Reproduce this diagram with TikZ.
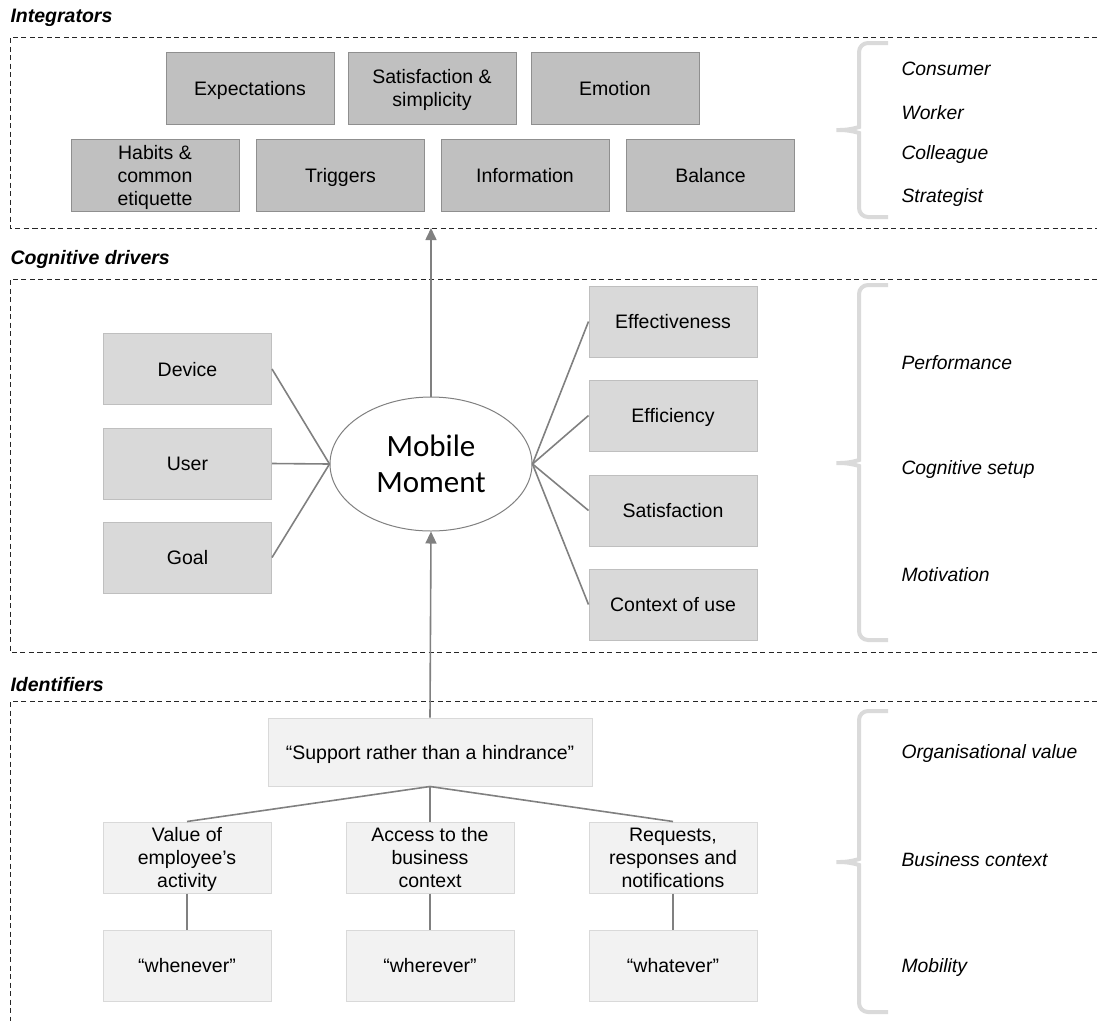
\documentclass[tikz,border=0pt]{standalone}
\usepackage{fontspec}
\setmainfont{Liberation Sans}
\newfontfamily\mmfont{Carlito}
\usetikzlibrary{shapes.geometric,arrows.meta}
\definecolor{darkfill}{HTML}{C0C0C0}
\definecolor{darkedge}{HTML}{8F8F8F}
\definecolor{midfill}{HTML}{D9D9D9}
\definecolor{midedge}{HTML}{BFBFBF}
\definecolor{lightfill}{HTML}{F2F2F2}
\definecolor{lightedge}{HTML}{D9D9D9}
\definecolor{linkgray}{HTML}{808080}
\definecolor{bracegray}{HTML}{DADADA}

% curly brace opening to the left: top, tip and bottom y
\newcommand{\sidebrace}[3]{%
  \draw[brace] (888,#1) -- (859,#1) -- (859,#2-12)
    .. controls (859,#2-3) and (850,#2) .. (831,#2)
    .. controls (850,#2) and (859,#2+3) .. (859,#2+12)
    -- (859,#3) -- (888,#3);}

\begin{document}
\begin{tikzpicture}[x=1pt,y=-1pt,
  every node/.style={font=\fontsize{19.5}{23}\selectfont},
  basebox/.style={rectangle, inner sep=0pt, align=center, text depth=0pt,
    minimum width=168pt, minimum height=71pt, line width=1pt},
  intbox/.style={basebox, fill=darkfill, draw=darkedge, minimum height=72pt},
  drvbox/.style={basebox, fill=midfill, draw=midedge},
  idbox/.style={basebox, fill=lightfill, draw=lightedge},
  frame/.style={dash pattern=on 5pt off 3.5pt, line width=0.9pt, draw=black!85},
  heading/.style={anchor=west, font=\fontsize{19.5}{23}\selectfont\bfseries\itshape},
  role/.style={anchor=west, font=\fontsize{19.3}{23}\selectfont\itshape},
  link/.style={draw=linkgray, line width=1.6pt},
  flow/.style={link, -{Triangle[width=11pt,length=12pt]}},
  brace/.style={draw=bracegray, line width=4pt, rounded corners=9pt},
]
\useasboundingbox (0,0) rectangle (1097,1021);

% section frames
\draw[frame] (1097,37) -- (10,37) -- (10,228) -- (1097,228);
\draw[frame] (1097,279) -- (10,279) -- (10,652) -- (1097,652);
\draw[frame] (1097,701) -- (10,701) -- (10,1021);

\node[heading] (hint) at (7,18) {Integrators};
\node[heading] (hcog) at (7,259) {Cognitive drivers};
\node[heading] (hid)  at (7,685) {Identifiers};

% integrators
\node[intbox] (expect) at (250,88)   {Expectations};
\node[intbox] (satsim) at (432,88)   {Satisfaction \&\\simplicity};
\node[intbox] (emot)   at (615,88)   {Emotion};
\node[intbox] (habits) at (155,175)  {Habits \&\\common\\etiquette};
\node[intbox] (trig)   at (340.5,175){Triggers};
\node[intbox] (info)   at (525,175)  {Information};
\node[intbox] (bal)    at (710.5,175){Balance};
\coordinate (intbot) at (431,228);

% cognitive drivers
\node[ellipse, draw=linkgray, line width=1pt, fill=white, inner sep=0pt,
  minimum width=202pt, minimum height=134pt, align=center,
  font=\mmfont\fontsize{31}{36}\selectfont] (mm) at (431,464) {Mobile\\Moment};
\node[drvbox] (device) at (187.5,369)   {Device};
\node[drvbox] (user)   at (187.5,463.5) {User};
\node[drvbox] (goal)   at (187.5,557.5) {Goal};
\node[drvbox] (effect) at (673,321.5)   {Effectiveness};
\node[drvbox] (effic)  at (673,415.5)   {Efficiency};
\node[drvbox] (satis)  at (673,510.5)   {Satisfaction};
\node[drvbox] (ctx)    at (673,604.5)   {Context of use};

\foreach \n in {device,user,goal} \draw[link] (\n.east) -- (mm.west);
\foreach \n in {effect,effic,satis,ctx} \draw[link] (mm.east) -- (\n.west);

% identifiers
\node[idbox, minimum width=324pt, minimum height=68pt] (support) at (430,752)
  {“Support rather than a hindrance”};
\node[idbox] (value)  at (187,857.5) {Value of\\employee’s\\activity};
\node[idbox] (access) at (430,857.5) {Access to the\\business\\context};
\node[idbox] (reqs)   at (673,857.5) {Requests,\\responses and\\notifications};
\node[idbox] (whenev) at (187,965.5) {“whenever”};
\node[idbox] (wherev) at (430,965.5) {“wherever”};
\node[idbox] (whatev) at (673,965.5) {“whatever”};

\foreach \n in {value,access,reqs} \draw[link] (support.south) -- (\n.north);
\draw[link] (value.south)  -- (whenev.north);
\draw[link] (access.south) -- (wherev.north);
\draw[link] (reqs.south)   -- (whatev.north);

% upward flow
\draw[flow] (mm.north) -- (intbot);
\draw[flow] (support.north) -- (mm.south);

% braces and roles
\sidebrace{43}{130}{217}
\sidebrace{285}{463}{640}
\sidebrace{711}{862}{1012}

\node[role] (r1) at (898,69)  {Consumer};
\node[role] (r2) at (898,113) {Worker};
\node[role] (r3) at (898,155) {Colleague};
\node[role] (r4) at (898,198) {Strategist};
\node[role] (r5) at (898,363) {Performance};
\node[role] (r6) at (898,469) {Cognitive setup};
\node[role] (r7) at (898,575) {Motivation};
\node[role] (r8) at (898,753) {Organisational value};
\node[role] (r9) at (898,860) {Business context};
\node[role] (r10) at (898,967) {Mobility};
\end{tikzpicture}
\end{document}
